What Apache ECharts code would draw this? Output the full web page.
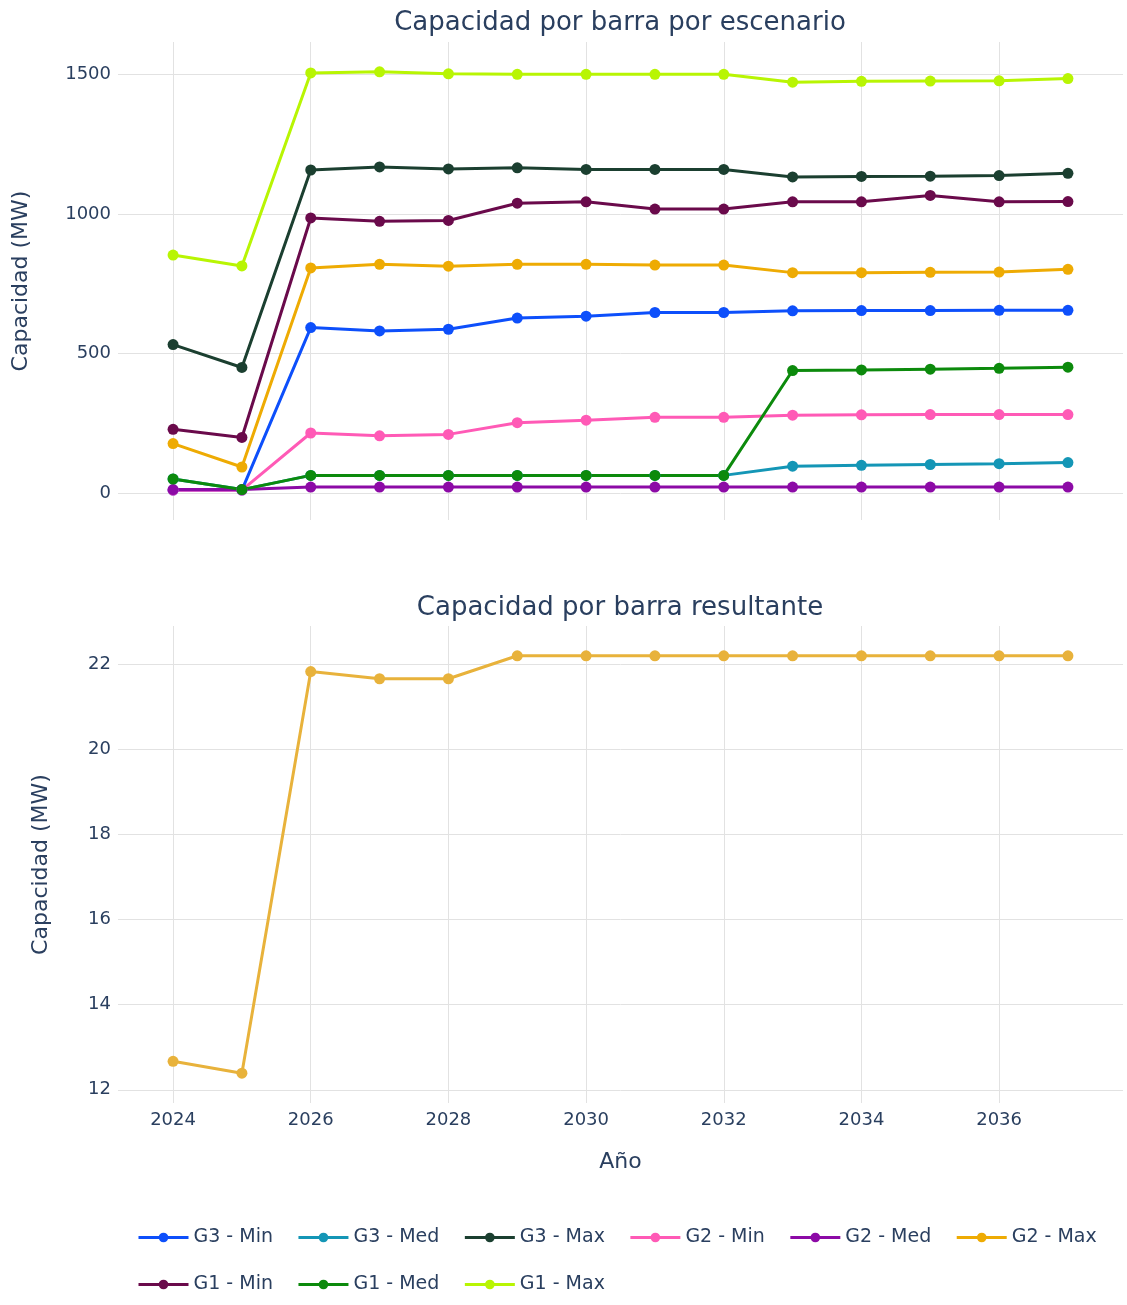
<!DOCTYPE html>
<html>
<head>
<meta charset="utf-8">
<script src="https://cdn.jsdelivr.net/npm/echarts@6/dist/echarts.min.js"></script>
<style>
html,body{margin:0;padding:0;background:#fff;}
#chart{width:1127px;height:1305px;}
</style>
</head>
<body>
<div id="chart"></div>
<script>
// ---- Data ----
const years = [2024, 2025, 2026, 2027, 2028, 2029, 2030, 2031, 2032, 2033, 2034, 2035, 2036, 2037];
const xTickValues = [2024, 2026, 2028, 2030, 2032, 2034, 2036];
const topYTicks = [0, 500, 1000, 1500];
const bottomYTicks = [12, 14, 16, 18, 20, 22];

const seriesNames = ['G3 - Min', 'G3 - Med', 'G3 - Max', 'G2 - Min', 'G2 - Med', 'G2 - Max', 'G1 - Min', 'G1 - Med', 'G1 - Max'];
const g3Min = [10, 10, 593, 581, 587, 627, 634, 647, 647, 653, 654, 654, 655, 655];
const g3Med = [50, 12, 63, 63, 63, 63, 63, 63, 63, 96, 99, 102, 105, 109];
const g3Max = [532, 450, 1158, 1169, 1162, 1166, 1160, 1160, 1160, 1133, 1135, 1136, 1138, 1146];
const g2Min = [10, 10, 215, 205, 210, 252, 261, 271, 271, 279, 280, 281, 281, 281];
const g2Med = [12, 12, 21, 21, 21, 21, 21, 21, 21, 21, 21, 21, 21, 21];
const g2Max = [177, 93, 807, 820, 813, 820, 820, 817, 817, 790, 790, 791, 792, 802];
const g1Min = [228, 199, 986, 974, 977, 1039, 1044, 1018, 1018, 1044, 1044, 1067, 1044, 1045];
const g1Med = [50, 12, 63, 63, 63, 63, 63, 63, 63, 439, 441, 444, 447, 451];
const g1Max = [853, 814, 1506, 1510, 1503, 1501, 1501, 1501, 1501, 1473, 1476, 1477, 1478, 1486];
const resultante = [12.67, 12.39, 21.83, 21.66, 21.66, 22.2, 22.2, 22.2, 22.2, 22.2, 22.2, 22.2, 22.2, 22.2];

const seriesValues = [g3Min, g3Med, g3Max, g2Min, g2Med, g2Max, g1Min, g1Med, g1Max];
const seriesColors = ['#0d4ffb', '#1496b6', '#1b3f30', '#ff5ab6', '#8c0aa6', '#eeab03', '#6a0a4b', '#0c8a0c', '#b8f503'];

// ---- Chart ----
const FONT = 'DejaVu Sans';
const TXT = '#2a3f5f';
const GRIDC = '#e2e2e2';

const chart = echarts.init(document.getElementById('chart'), null, {renderer: 'canvas'});

function pair(vals) { return years.map((y, i) => [y, vals[i]]); }

const xCommon = {
  type: 'value', min: 2023.2, max: 2037.8,
  axisLine: {show: false},
  axisTick: {show: false, customValues: xTickValues},
  splitLine: {show: true, lineStyle: {color: GRIDC, width: 1}},
};

const series = seriesNames.map((n, i) => ({
  name: n, type: 'line', xAxisIndex: 0, yAxisIndex: 0,
  data: pair(seriesValues[i]),
  symbol: 'circle', symbolSize: 11, showSymbol: true,
  lineStyle: {width: 3, color: seriesColors[i]},
  itemStyle: {color: seriesColors[i]},
  emphasis: {disabled: true},
  animation: false
}));
series.push({
  name: 'Resultante', type: 'line', xAxisIndex: 1, yAxisIndex: 1,
  data: pair(resultante),
  symbol: 'circle', symbolSize: 11,
  lineStyle: {width: 3, color: '#e8b23b'},
  itemStyle: {color: '#e8b23b'},
  emphasis: {disabled: true},
  animation: false
});

const option = {
  backgroundColor: '#ffffff',
  textStyle: {fontFamily: FONT, color: TXT},
  title: [
    {text: 'Capacidad por barra por escenario', left: 620, textAlign: 'center', top: 10, padding: 0,
     textStyle: {fontFamily: FONT, fontSize: 26, fontWeight: 'normal', color: TXT}},
    {text: 'Capacidad por barra resultante', left: 620, textAlign: 'center', top: 595, padding: 0,
     textStyle: {fontFamily: FONT, fontSize: 26, fontWeight: 'normal', color: TXT}}
  ],
  grid: [
    {left: 118, right: 4, top: 42, height: 478},
    {left: 118, right: 4, top: 626, height: 477}
  ],
  xAxis: [
    Object.assign({}, xCommon, {gridIndex: 0, axisLabel: {show: false, customValues: xTickValues}}),
    Object.assign({}, xCommon, {gridIndex: 1,
      name: 'Año', nameLocation: 'middle', nameGap: 48,
      nameTextStyle: {fontFamily: FONT, fontSize: 22, color: TXT},
      axisLabel: {show: true, customValues: xTickValues, margin: 8, fontFamily: FONT, fontSize: 18, color: TXT,
        formatter: v => String(v)}})
  ],
  yAxis: [
    {type: 'value', gridIndex: 0, min: -97, max: 1617,
     name: 'Capacidad (MW)', nameLocation: 'middle', nameGap: 86,
     nameTextStyle: {fontFamily: FONT, fontSize: 22, color: TXT},
     axisLine: {show: false}, axisTick: {show: false, customValues: topYTicks},
     axisLabel: {customValues: topYTicks, margin: 7, fontFamily: FONT, fontSize: 18, color: TXT, formatter: v => String(v)},
     splitLine: {show: true, lineStyle: {color: GRIDC, width: 1}}},
    {type: 'value', gridIndex: 1, min: 11.69, max: 22.9,
     name: 'Capacidad (MW)', nameLocation: 'middle', nameGap: 66,
     nameTextStyle: {fontFamily: FONT, fontSize: 22, color: TXT},
     axisLine: {show: false}, axisTick: {show: false, customValues: bottomYTicks},
     axisLabel: {customValues: bottomYTicks, margin: 7, fontFamily: FONT, fontSize: 18, color: TXT, formatter: v => String(v)},
     splitLine: {show: true, lineStyle: {color: GRIDC, width: 1}}}
  ],
  legend: {
    data: seriesNames,
    left: 137, right: 0, top: 1226, padding: 0,
    orient: 'horizontal',
    itemWidth: 50, itemHeight: 12, itemGap: 24,
    lineStyle: {width: 3},
    textStyle: {fontFamily: FONT, fontSize: 19, color: TXT, lineHeight: 23},
    selectedMode: false
  },
  series: series,
  animation: false
};
chart.setOption(option);
</script>
</body>
</html>
